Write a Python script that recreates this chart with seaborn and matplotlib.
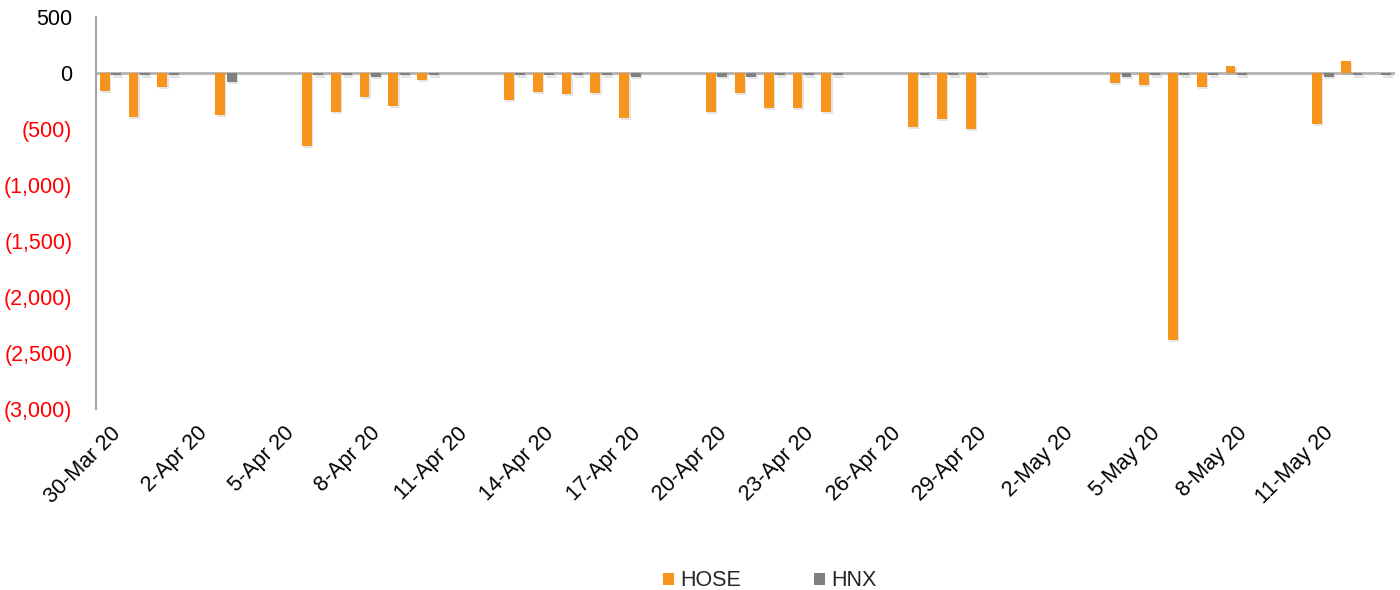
import matplotlib
matplotlib.use("Agg")
import numpy as np
import pandas as pd
import matplotlib.pyplot as plt
import matplotlib.transforms as mtransforms
import seaborn as sns
from matplotlib import patheffects as pe
from matplotlib.patches import Patch

sns.set_theme(style="white")
plt.rcParams["font.family"] = ["Liberation Sans", "DejaVu Sans"]

# ---- data (net foreign trading value, bn VND) ----
trade_dates = [
    "2020-03-30", "2020-03-31", "2020-04-01", "2020-04-03",
    "2020-04-06", "2020-04-07", "2020-04-08", "2020-04-09", "2020-04-10",
    "2020-04-13", "2020-04-14", "2020-04-15", "2020-04-16", "2020-04-17",
    "2020-04-20", "2020-04-21", "2020-04-22", "2020-04-23", "2020-04-24",
    "2020-04-27", "2020-04-28", "2020-04-29",
    "2020-05-04", "2020-05-05", "2020-05-06", "2020-05-07", "2020-05-08",
    "2020-05-11", "2020-05-12", "2020-05-13",
]
hose = [-164, -396, -125, -378,
        -652, -345, -217, -295, -60,
        -244, -167, -190, -176, -399,
        -345, -176, -310, -310, -345,
        -480, -410, -500,
        -85, -110, -2380, -125, 60,
        -455, 110, 0]
hnx = [-22, -22, -22, -84,
       -22, -22, -35, -22, -22,
       -22, -22, -22, -22, -35,
       -33, -35, -22, -22, -22,
       -22, -22, -22,
       -33, -22, -22, -22, -22,
       -33, -22, -22]
series_names = ["HOSE", "HNX"]
colors = ["#F7941D", "#808080"]
y_ticks = [500, 0, -500, -1000, -1500, -2000, -2500, -3000]

def fmt_date(d):
    return f"{d.day}-{d.strftime('%b')} 20"

all_days = pd.date_range("2020-03-30", "2020-05-13")
order = [fmt_date(d) for d in all_days]
trade_labels = [fmt_date(pd.Timestamp(d)) for d in trade_dates]

df = pd.DataFrame({
    "date": trade_labels * 2,
    "value": hose + hnx,
    "series": [series_names[0]] * len(hose) + [series_names[1]] * len(hnx),
})

fig = plt.figure(figsize=(14, 5.9), dpi=100)
ax = fig.add_axes([96 / 1400, 1 - 409 / 590, 1299 / 1400, (409 - 17) / 590])

ax.axhline(0, color="#B3B3B3", lw=2, zorder=1)

sns.barplot(data=df, x="date", y="value", hue="series", order=order,
            hue_order=series_names, palette=colors, width=0.8, gap=0.15,
            saturation=1, errorbar=None, legend=False, ax=ax, zorder=3,
            linewidth=0, edgecolor="none")

for p in ax.patches:
    p.set_path_effects([pe.SimplePatchShadow(offset=(1, -1.5), shadow_rgbFace="#999999", alpha=0.25),
                        pe.Normal()])

ax.set_xlim(-0.5, len(order) - 0.5)
ax.set_ylim(-3000, 500)

# y ticks
ax.set_yticks(y_ticks)
ylabels = [f"({abs(v):,})" if v < 0 else f"{v:,}" for v in y_ticks]
ax.set_yticklabels(ylabels)
for t, v in zip(ax.get_yticklabels(), y_ticks):
    t.set_color("#FF0000" if v < 0 else "black")

# x ticks every 3 days
idx = list(range(0, len(order), 3))
ax.set_xticks(idx)
ax.set_xticklabels([order[i] for i in idx], rotation=45, ha="right",
                   rotation_mode="anchor", color="black")
shift = mtransforms.ScaledTranslation(-7 / 100, 0, fig.dpi_scale_trans)
for t in ax.get_xticklabels():
    t.set_transform(t.get_transform() + shift)

ax.tick_params(axis="x", length=0, pad=10, labelsize=15.5)
ax.tick_params(axis="y", length=0, pad=17, labelsize=15.5)
ax.set_xlabel("")
ax.set_ylabel("")

for s in ["top", "right", "bottom"]:
    ax.spines[s].set_visible(False)
ax.spines["left"].set_color("#A6A6A6")
ax.spines["left"].set_linewidth(1.5)
ax.grid(False)

handles = [Patch(facecolor=c, edgecolor="none") for c in colors]
fig.legend(handles, series_names, loc="center", bbox_to_anchor=(0.55, 1 - 581 / 590),
           ncol=2, frameon=False, fontsize=15.5, handlelength=0.5, handleheight=0.5,
           handletextpad=0.3, columnspacing=3.4)

fig.savefig("out.png", dpi=100)
